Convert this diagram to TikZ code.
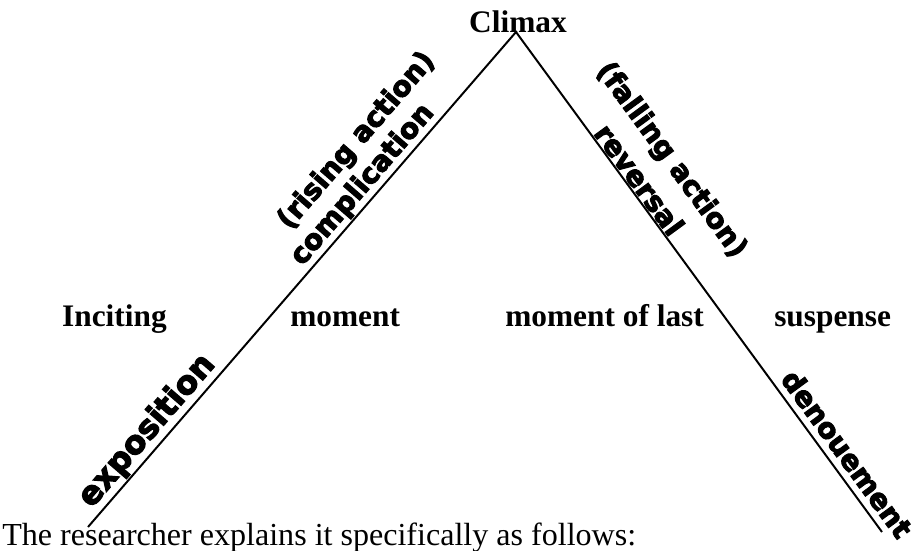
\documentclass[tikz,border=0pt]{standalone}
\usepackage{fontspec}
\setmainfont{Liberation Serif}
\newfontfamily\tagfont{DejaVu Sans Bold}[FakeBold=3.5]
\usetikzlibrary{positioning}
\tikzset{
  heading/.style={font=\fontsize{22.3}{26}\selectfont\bfseries, inner sep=0pt},
  body/.style={font=\fontsize{22.8}{27}\selectfont, inner sep=0pt},
  phase/.style={font=\tagfont\fontsize{20}{24}\selectfont, sloped, inner sep=0pt},
  plot/.style={line width=1.4pt},
}
\begin{document}
\begin{tikzpicture}[x=0.025cm, y=-0.025cm]
  \useasboundingbox (0,0) rectangle (920,551);
  \coordinate (top) at (516,32);
  \coordinate (lend) at (88,527);
  \coordinate (rend) at (882,532);

  \node[heading, anchor=base] (climax) at (518,33) {Climax};
  \node[heading, anchor=base east] (inciting) at (167,326) {Inciting};
  \node[heading, anchor=base west] (moment) at (290,326) {moment};
  \node[heading, anchor=base west] (last) at (505,326) {moment of last};
  \node[heading, anchor=base west] (suspense) at (774,326) {suspense};
  \node[body, anchor=base west] (caption) at (2,545) {The researcher explains it specifically as follows:};

  \draw[plot] (lend) -- (top) -- (rend);

  % rising side
  \path (lend) -- (top)
    node[phase, font=\tagfont\fontsize{23}{27}\selectfont, above=1.5pt, pos=0.17] (expo) {exposition}
    node[phase, above=1.5pt, pos=0.67] (compl) {complication}
    node[phase, above=25pt, pos=0.715] (rising) {(rising action)};
  % falling side
  \path (top) -- (rend)
    node[phase, above=25pt, pos=0.315] (falling) {(falling action)}
    node[phase, above=1pt, pos=0.31] (rev) {reversal}
    node[phase, above=5pt, pos=0.865] (denou) {denouement};
\end{tikzpicture}
\end{document}
